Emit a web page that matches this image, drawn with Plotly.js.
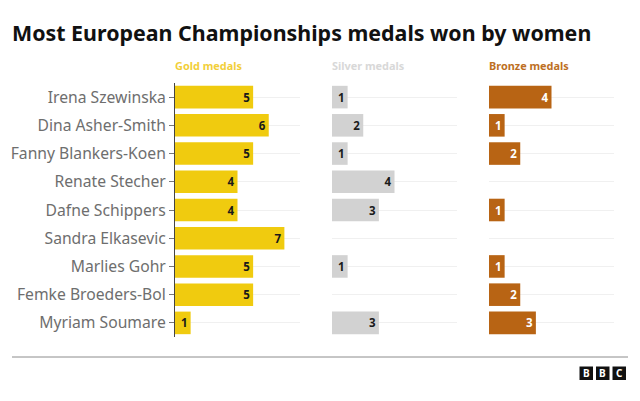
<!DOCTYPE html>
<html>
<head>
<meta charset="utf-8">
<script src="https://cdn.plot.ly/plotly-3.0.1.min.js"></script>
<style>html,body{margin:0;padding:0;background:#fff}#chart{width:640px;height:401px}</style>
</head>
<body>
<div id="chart"></div>
<script>
const athletes = ["Irena Szewinska","Dina Asher-Smith","Fanny Blankers-Koen","Renate Stecher","Dafne Schippers","Sandra Elkasevic","Marlies Gohr","Femke Broeders-Bol","Myriam Soumare"];
const gold = [5,6,5,4,4,7,5,5,1];
const silver = [1,2,1,4,3,null,1,null,3];
const bronze = [4,1,2,null,1,null,1,2,3];
const W = 640, H = 401;
const FONT = '"Noto Sans", sans-serif';
const px = v => v / W, py = v => 1 - v / H;

function series(vals, color, txtColor, xa, ya) {
  return {
    type: 'bar', orientation: 'h', y: athletes, x: vals, xaxis: xa, yaxis: ya,
    width: 0.8,
    marker: {color: color, line: {color: color, width: 0}},
    text: vals.map(v => v === null ? '' : String(v)),
    textposition: 'inside', insidetextanchor: 'end', textangle: 0, constraintext: 'none',
    textfont: {family: FONT, size: 11.5, color: txtColor, weight: 700},
    cliponaxis: false, hoverinfo: 'skip', showlegend: false
  };
}
const data = [
  series(gold, '#f0cb0f', '#1a1a1a', 'x', 'y'),
  series(silver, '#d2d2d2', '#1a1a1a', 'x2', 'y2'),
  series(bronze, '#b86414', '#ffffff', 'x3', 'y3')
];
const xBase = {range: [0, 8], showgrid: false, zeroline: false, showticklabels: false, ticks: '', showline: false, fixedrange: true};
const yDomain = [py(337), py(83)];
const yBase = {domain: yDomain, autorange: false, range: [8.5, -0.5], type: 'category', categoryorder: 'array', categoryarray: athletes,
  showgrid: true, gridcolor: '#f0f0f0', gridwidth: 1, zeroline: false, fixedrange: true};

const logoLetters = ['B','B','C'];
const logoX = [579.5, 596, 612.5];
const shapes = [
  {type:'line', xref:'paper', yref:'paper', x0:px(12), x1:px(628), y0:py(357), y1:py(357), line:{color:'#8c8c8c', width:1}}
].concat(logoX.map(x => ({type:'rect', xref:'paper', yref:'paper', x0:px(x), x1:px(x+13.5), y0:py(366.5), y1:py(380), fillcolor:'#111', line:{width:0}})));

const annotations = [
  {text:'<b>Most European Championships medals won by women</b>', x:px(10.5), y:py(33), xanchor:'left', yanchor:'middle', font:{size:21.4, color:'#111', family:FONT}},
  {text:'<b>Gold medals</b>', x:px(174), y:py(66), xanchor:'left', yanchor:'middle', font:{size:10.9, color:'#f2cf3a', family:FONT}},
  {text:'<b>Silver medals</b>', x:px(331), y:py(66), xanchor:'left', yanchor:'middle', font:{size:10.9, color:'#d8d8d8', family:FONT}},
  {text:'<b>Bronze medals</b>', x:px(488), y:py(66), xanchor:'left', yanchor:'middle', font:{size:10.9, color:'#bd6f24', family:FONT}}
].concat(logoLetters.map((t,i) => ({text:'<b>'+t+'</b>', x:px(logoX[i]+6.75), y:py(373.25), xanchor:'center', yanchor:'middle', font:{size:10, color:'#fff', family:FONT}})))
 .map(a => Object.assign({xref:'paper', yref:'paper', showarrow:false, borderpad:0}, a));

const layout = {
  width: W, height: H, margin: {l:0, r:0, t:0, b:0}, paper_bgcolor:'#fff', plot_bgcolor:'#fff',
  barmode: 'overlay', font: {family: FONT},
  xaxis: Object.assign({}, xBase, {domain:[px(175), px(300)], anchor:'y'}),
  xaxis2: Object.assign({}, xBase, {domain:[px(332), px(457)], anchor:'y2'}),
  xaxis3: Object.assign({}, xBase, {domain:[px(489), px(614)], anchor:'y3'}),
  yaxis: Object.assign({}, yBase, {anchor:'x', showline:true, linecolor:'#444', linewidth:1, ticks:'outside', ticklen:5, tickcolor:'#777', tickwidth:1,
    ticklabelstandoff: 0, tickfont:{size:15.7, color:'#6e6e6e', family:FONT}, automargin:false}),
  yaxis2: Object.assign({}, yBase, {anchor:'x2', showticklabels:false, ticks:'', showline:false}),
  yaxis3: Object.assign({}, yBase, {anchor:'x3', showticklabels:false, ticks:'', showline:false}),
  shapes: shapes, annotations: annotations
};
Plotly.newPlot('chart', data, layout, {displayModeBar:false, staticPlot:true});
</script>
</body>
</html>
